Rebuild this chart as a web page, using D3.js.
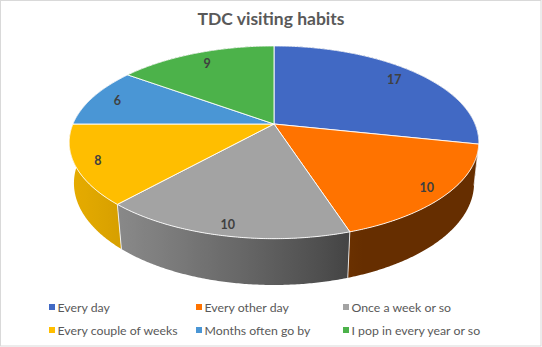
<!DOCTYPE html>
<html>
<head>
<meta charset="utf-8">
<script src="https://cdn.jsdelivr.net/npm/d3@7"></script>
<style>
  html, body { margin: 0; padding: 0; background: #fff; }
  svg { display: block; }
  text { font-family: Lato, "Liberation Sans", sans-serif; }
</style>
</head>
<body>
<svg id="chart" width="542" height="347"></svg>
<script>
// Survey answers: how often people visit TDC
const categories = [
  "Every day",
  "Every other day",
  "Once a week or so",
  "Every couple of weeks",
  "Months often go by",
  "I pop in every year or so"
];
const values = [17, 10, 10, 8, 6, 9];
const colors = ["#4169C4", "#FF7300", "#A3A3A3", "#FFBE00", "#4A96D5", "#4CB24A"];
const title = "TDC visiting habits";

const W = 542, H = 347;
const svg = d3.select("#chart");
const defs = svg.append("defs");

// frame
svg.append("rect")
  .attr("x", 0.5).attr("y", 0.5)
  .attr("width", W - 1.5).attr("height", H - 1.5)
  .attr("fill", "#fff").attr("stroke", "#d9d9d9");

// title
svg.append("text")
  .attr("x", 271).attr("y", 25)
  .attr("text-anchor", "middle")
  .attr("font-size", 17.5)
  .attr("font-weight", "bold")
  .attr("fill", "#595959")
  .text(title);

// --- 3D pie with a perspective camera ---
const cx = 274, cy = 124;        // screen position of the pie centre
const F = 939;                   // focal length (px)
const Ldist = 4.67;              // camera distance, in pie radii
const elev = Math.asin(0.462);   // camera elevation
const thick = 0.231;             // pie thickness, in pie radii
const cosE = Math.cos(elev), sinE = Math.sin(elev);

// a: angle clockwise from the far side; r: radius fraction; z: height (0 top)
function proj(a, r, z) {
  const wx = r * Math.sin(a), wy = r * Math.cos(a);
  const depth = wy * cosE + Ldist - z * sinE;
  const up = wy * sinE + z * cosE;
  return [cx + F * wx / depth, cy - F * up / depth, depth];
}

const pie = d3.pie().sort(null).value(d => d)
  .startAngle(0).endAngle(2 * Math.PI);
const arcs = pie(values);

// side shading: light coming from the front-left
const lightAngle = 250 * Math.PI / 180;
const shade = d3.scaleLinear().domain([0, 1]).range([0.4, 0.9]);
function sideColor(base, a) {
  const k = shade(Math.max(0, Math.cos(a - lightAngle)));
  const c = d3.rgb(base);
  return d3.rgb(c.r * k, c.g * k, c.b * k).formatHex();
}

const line = d3.line();
const step = Math.PI / 360;
function sampleAngles(a0, a1) {
  const n = Math.max(2, Math.ceil((a1 - a0) / step));
  return d3.range(n + 1).map(j => a0 + (a1 - a0) * j / n);
}

// visible (front-facing) part of the rim
const visLo = 95 * Math.PI / 180, visHi = 265 * Math.PI / 180;

// one side wall per slice, shaded with a horizontal gradient
const sides = arcs.map((d, i) => {
  const angs = sampleAngles(d.startAngle, d.endAngle);
  const top = angs.map(a => proj(a, 1, 0));
  const bot = angs.map(a => proj(a, 1, -thick)).reverse();
  const pts = top.concat(bot).map(p => [p[0], p[1]]);
  const mid = (d.startAngle + d.endAngle) / 2;
  const lo = Math.max(d.startAngle, visLo), hi = Math.min(d.endAngle, visHi);
  let fill;
  if (hi > lo) {
    const id = "side" + i;
    const vs = sampleAngles(lo, hi);
    const xs = vs.map(a => proj(a, 1, 0)[0]);
    const x0 = xs[0], x1 = xs[xs.length - 1];
    const grad = defs.append("linearGradient").attr("id", id)
      .attr("gradientUnits", "userSpaceOnUse")
      .attr("x1", x0).attr("y1", 0).attr("x2", x1).attr("y2", 0);
    vs.forEach((a, k) => {
      if (k % 6 !== 0 && k !== vs.length - 1) return;
      grad.append("stop")
        .attr("offset", Math.min(1, Math.max(0, (xs[k] - x0) / (x1 - x0 || 1))))
        .attr("stop-color", sideColor(colors[i], a));
    });
    fill = `url(#${id})`;
  } else {
    fill = sideColor(colors[i], mid);
  }
  return { pts, fill, depth: proj(mid, 1, 0)[2] };
}).sort((p, q) => q.depth - p.depth);

const sideG = svg.append("g");
sideG.selectAll("path").data(sides).join("path")
  .attr("d", s => line(s.pts) + "Z")
  .attr("fill", s => s.fill);

// light seams on the side where slices meet (front half only)
arcs.forEach(d => {
  const a = d.startAngle;
  const t = proj(a, 1, 0), b = proj(a, 1, -thick);
  if (Math.cos(a) < 0) {
    sideG.append("line")
      .attr("x1", t[0]).attr("y1", t[1]).attr("x2", b[0]).attr("y2", b[1])
      .attr("stroke", "#fff").attr("stroke-opacity", 0.8).attr("stroke-width", 1);
  }
});

// top faces
function topPath(d) {
  const pts = [[cx, cy]].concat(sampleAngles(d.startAngle, d.endAngle)
    .map(a => { const p = proj(a, 1, 0); return [p[0], p[1]]; }));
  return line(pts) + "Z";
}
svg.append("g").selectAll("path").data(arcs).join("path")
  .attr("d", topPath)
  .attr("fill", (d, i) => colors[i])
  .attr("stroke", "#fff")
  .attr("stroke-width", 0.9)
  .attr("stroke-linejoin", "round");

// value labels: sit a little further out on the near side of the pie
const labelR = a => 0.875 - 0.045 * Math.cos(a);
function labelPos(d) {
  const a = (d.startAngle + d.endAngle) / 2;
  return proj(a, labelR(a), 0);
}
svg.append("g").selectAll("text").data(arcs).join("text")
  .attr("x", d => labelPos(d)[0])
  .attr("y", d => labelPos(d)[1])
  .attr("text-anchor", "middle")
  .attr("dominant-baseline", "central")
  .attr("font-size", 12.5)
  .attr("font-weight", "bold")
  .attr("fill", "#404040")
  .text(d => d.data);

// legend: three columns, two rows
const legendX = d3.scaleLinear().domain([0, 1]).range([49, 196]);
const legendY = d3.scaleLinear().domain([0, 1]).range([307, 330]);
const lg = svg.append("g").selectAll("g").data(categories).join("g")
  .attr("transform", (d, i) => `translate(${legendX(i % 3)},${legendY(Math.floor(i / 3))})`);
lg.append("rect")
  .attr("x", 0).attr("y", -3).attr("width", 6).attr("height", 6)
  .attr("fill", (d, i) => colors[i]);
lg.append("text")
  .attr("x", 8.5).attr("y", 0)
  .attr("dominant-baseline", "central")
  .attr("font-size", 12.3)
  .attr("fill", "#595959")
  .text(d => d);
</script>
</body>
</html>
